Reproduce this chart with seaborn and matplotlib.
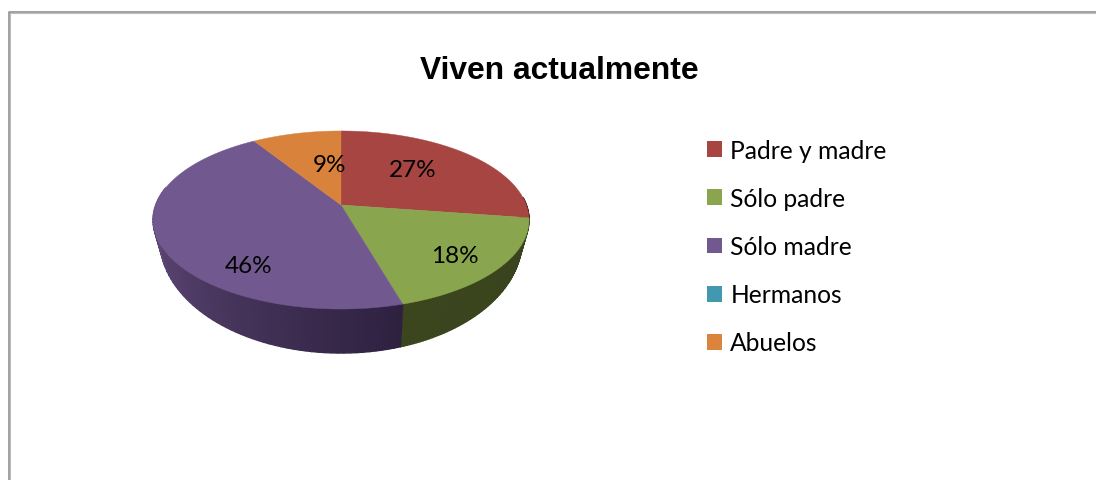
from matplotlib import pyplot as plt
from matplotlib.patches import Patch
import numpy as np
import seaborn as sns

# Viven actualmente
categories = ['Padre y madre', 'Sólo padre', 'Sólo madre', 'Hermanos', 'Abuelos']
percents = [27.3, 18.2, 45.5, 0, 9.0]
colors = ['#A64542', '#89A54E', '#71588F', '#4198AF', '#DB843D']
top_colors = ['#A64542', '#89A54E', '#71588F', '#4198AF', '#D8823C']

sns.set_style('white')
plt.rcParams['font.family'] = ['Lato', 'DejaVu Sans']

# the pie, in pixels of the picture
CX = 341
TOP = (206, 185.3, 86.5)
BOTTOM = (222, 178.4, 109.8)
TILT = 0.1685


def rim(theta, plane, r=1.0):
    y0, k, a = plane
    u = r * np.sin(theta)
    v = r * np.cos(theta)
    d = 1 + TILT * v
    return CX + k * u / d, y0 - a * v / d


f, ax = plt.subplots(figsize=(10.96, 4.81), dpi=100)
f.subplots_adjust(0, 0, 1, 1)
ax.set_xlim(0, 1096)
ax.set_ylim(481, 0)
ax.axis('off')

# chart frame
ax.plot([9, 9, 1096], [481, 12.5, 12.5], color='#868686', lw=1.1, zorder=1)
ax.plot([10, 10, 1096], [481, 13.5, 13.5], color='#BDBDBD', lw=0.8, zorder=1)

shares = np.array(percents) / sum(percents)
edges = np.concatenate([[0], np.cumsum(shares)]) * 2 * np.pi

# side of the pie, only the front part shows
side_ramps = {
    0: ['#4A1B19', '#4A1B19'],
    1: ['#38421C', '#3B451E'],
    2: ['#2E2140', '#6B5285'],
}
for i, ramp in side_ramps.items():
    start = max(edges[i], np.radians(85))
    end = min(edges[i + 1], np.radians(282))
    steps = np.linspace(start, end, 70)
    shades = sns.blend_palette(ramp, len(steps) - 1)
    for a, b, c in zip(steps[:-1], steps[1:], shades):
        xt, yt = rim(np.array([a, b]), TOP)
        xb, yb = rim(np.array([b, a]), BOTTOM)
        ax.fill(np.r_[xt, xb], np.r_[yt, yb], color=c, lw=1.0, zorder=2)

# top face
for i in range(len(percents)):
    if percents[i] == 0:
        continue
    t = np.linspace(edges[i], edges[i + 1], 120)
    x, y = rim(t, TOP)
    ax.fill(np.r_[CX, x], np.r_[TOP[0], y], color=top_colors[i], lw=0.3, zorder=3)

# percent labels
label_xy = {0: (413, 171), 1: (455, 257), 2: (249, 267), 4: (330, 166)}
for i, (lx, ly) in label_xy.items():
    ax.text(lx, ly, f'{percents[i]:.0f}%', fontsize=17.5, color='black',
            ha='center', va='center', zorder=4)

ax.text(559, 71, 'Viven actualmente', family='Liberation Sans', fontweight='bold',
        fontsize=22.85, color='black', ha='center', va='center')

handles = [Patch(facecolor=c, edgecolor='none', label=n) for c, n in zip(colors, categories)]
ax.legend(handles=handles, loc='upper left', bbox_to_anchor=(707 / 1096, 1 - 140 / 481),
          frameon=False, fontsize=17.7, labelcolor='black', handlelength=0.62, handleheight=0.62,
          handletextpad=0.33, labelspacing=1.02, borderpad=0, borderaxespad=0)

f.savefig('out.png', dpi=100)
